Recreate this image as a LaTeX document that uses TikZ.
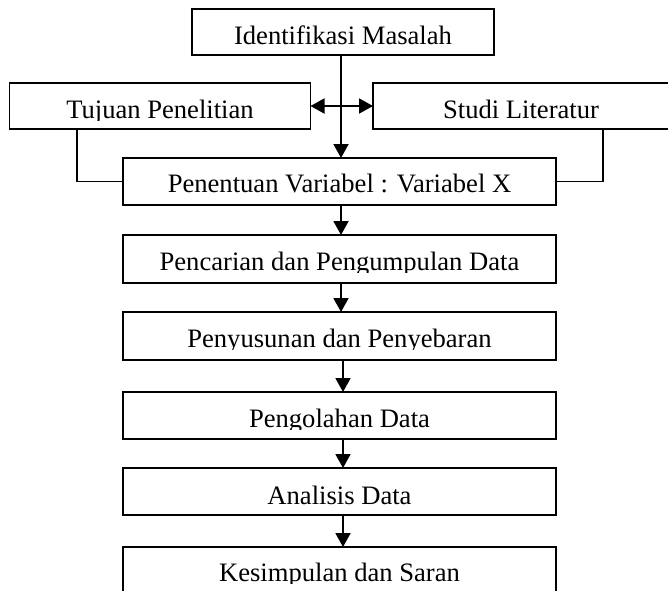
\documentclass[tikz,border=0pt]{standalone}
\usepackage{fontspec}
\setmainfont{Liberation Serif}
\usetikzlibrary{arrows.meta}
\tikzset{
  box/.style={draw=black, line width=1.9pt, inner sep=0pt, outer sep=0pt, rectangle},
  arr/.style={line width=1.9pt, -{Triangle[length=14pt,width=15pt]}},
  arrtwo/.style={line width=1.9pt, {Triangle[length=14pt,width=15pt]}-{Triangle[length=14pt,width=15pt]}},
  conn/.style={line width=1.9pt},
  txt/.style={inner sep=0pt, anchor=base, font=\fontsize{26.6}{30}\selectfont}
}
\newcommand\btext[5]{%
  \begin{scope}
    \clip (#1,#3) rectangle (#2,#4+2.5);
    \node[txt] at ({(#1+#2)/2},#4) {#5};
  \end{scope}}
\begin{document}
\begin{tikzpicture}[x=1pt,y=-1pt]
\useasboundingbox (0,0) rectangle (668,590);
\clip (0,0) rectangle (668,590);
% boxes
\node[box, minimum width=302pt, minimum height=46pt] (idm) at (343,32) {};
\node[box, minimum width=301pt, minimum height=46pt] (tuj) at (160,106) {};
\node[box, minimum width=298pt, minimum height=46pt] (stu) at (522,106) {};
\node[box, minimum width=433pt, minimum height=47pt] (pen) at (339.5,181.5) {};
\node[box, minimum width=433pt, minimum height=48pt] (pcr) at (339.5,259) {};
\node[box, minimum width=433pt, minimum height=48pt] (pny) at (339.5,336) {};
\node[box, minimum width=433pt, minimum height=47pt] (pgl) at (339.5,415.5) {};
\node[box, minimum width=433pt, minimum height=47pt] (ana) at (339.5,491.5) {};
\node[box, minimum width=433pt, minimum height=60pt] (kes) at (339.5,577) {};
% texts
\btext{194}{492}{11}{44}{Identifikasi Masalah}
\btext{11}{309}{85}{118}{Tujuan Penelitian}
\btext{374}{668}{85}{118}{Studi Literatur}
\btext{125}{554}{160}{192.5}{Penentuan Variabel : Variabel X}
\btext{125}{554}{237}{270}{Pencarian dan Pengumpulan Data}
\btext{125}{554}{314}{347}{Penyusunan dan Penyebaran}
\btext{125}{554}{394}{427}{Pengolahan Data}
\btext{125}{554}{470}{504}{Analisis Data}
\btext{125}{554}{549}{581}{Kesimpulan dan Saran}
% helper coordinates
\coordinate (vx) at (341,0);
\coordinate (vy) at (343,0);
\coordinate (tl) at (77,0);
\coordinate (sr) at (603,0);
% connectors
\draw[arr] (vx |- idm.south) -- (vx |- pen.north);
\draw[arrtwo] (tuj.east) -- (stu.west);
\draw[conn] (tl |- tuj.south) |- (pen.west);
\draw[conn] (sr |- stu.south) |- (pen.east);
\draw[arr] (vx |- pen.south) -- (vx |- pcr.north);
\draw[arr] (vx |- pcr.south) -- (vx |- pny.north);
\draw[arr] (vy |- pny.south) -- (vy |- pgl.north);
\draw[arr] (vy |- pgl.south) -- (vy |- ana.north);
\draw[arr] (vy |- ana.south) -- (vy |- kes.north);
\end{tikzpicture}
\end{document}
